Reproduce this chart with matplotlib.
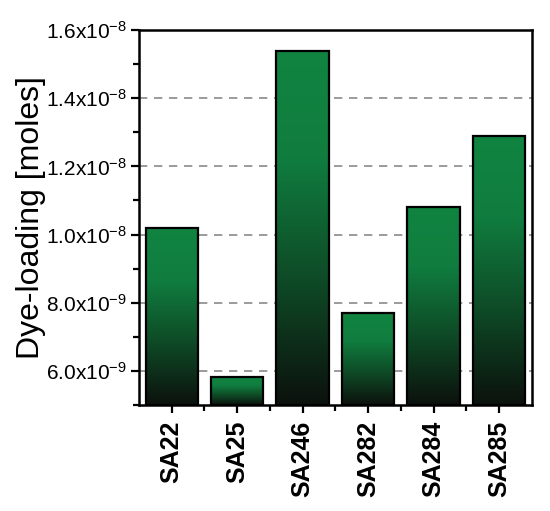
import numpy as np
import matplotlib
matplotlib.use("Agg")
import matplotlib.pyplot as plt
from matplotlib.colors import LinearSegmentedColormap
from matplotlib.ticker import MultipleLocator, FixedLocator

# data
samples = ["SA22", "SA25", "SA246", "SA282", "SA284", "SA285"]
dye_loading = [1.02e-8, 5.81e-9, 1.539e-8, 7.69e-9, 1.081e-8, 1.29e-8]
y_ticks = [6e-9, 8e-9, 1.0e-8, 1.2e-8, 1.4e-8, 1.6e-8]
y_tick_labels = [r"6.0x10$^{-9}$", r"8.0x10$^{-9}$", r"1.0x10$^{-8}$",
                 r"1.2x10$^{-8}$", r"1.4x10$^{-8}$", r"1.6x10$^{-8}$"]

plt.rcParams["font.family"] = ["Liberation Sans", "DejaVu Sans"]
plt.rcParams["mathtext.fontset"] = "custom"
plt.rcParams["mathtext.rm"] = "Liberation Sans"
plt.rcParams["mathtext.it"] = "Liberation Sans:italic"

ymin, ymax = 5e-9, 1.6e-8
green_black = LinearSegmentedColormap.from_list(
    "gb", [(0.0, "#0c110d"), (0.35, "#0e4a26"), (0.7, "#107d3f"), (1.0, "#118441")])

fig = plt.figure(figsize=(5.5, 5.11), dpi=100)
ax = fig.add_axes([0.2527, 0.2074, 0.967 - 0.2527, 0.9413 - 0.2074])

x = np.arange(len(samples))
heights = [v - ymin for v in dye_loading]
bars = ax.bar(x, heights, bottom=ymin, width=0.8, facecolor="none",
              edgecolor="black", linewidth=1.6, zorder=3)

grad = np.linspace(0, 1, 256).reshape(-1, 1)
for b in bars:
    x0, y0 = b.get_x(), b.get_y()
    im = ax.imshow(grad, cmap=green_black, origin="lower", aspect="auto",
                   extent=(x0, x0 + b.get_width(), y0, y0 + b.get_height()),
                   zorder=2, interpolation="bilinear")
    im.set_clip_path(b)

ax.set_xlim(-0.5, 5.5)
ax.set_ylim(ymin, ymax)

for yv in y_ticks[:-1]:
    ax.axhline(yv, color="#8a8a8a", linestyle=(0, (5, 4)), linewidth=1.2, zorder=1)

ax.set_yticks(y_ticks)
ax.set_yticklabels(y_tick_labels, fontsize=15)
ax.yaxis.set_minor_locator(MultipleLocator(1e-9))
ax.set_xticks(x)
ax.set_xticklabels(samples, rotation=90, fontsize=18, fontweight="bold")
ax.xaxis.set_minor_locator(FixedLocator(x[:-1] + 0.5))

ax.tick_params(axis="both", which="major", direction="out", length=6, width=1.6)
ax.tick_params(axis="both", which="minor", direction="out", length=4, width=1.6)
ax.tick_params(axis="x", which="major", pad=5)
ax.tick_params(axis="y", which="major", pad=3)

for s in ax.spines.values():
    s.set_linewidth(1.8)

ax.set_ylabel("Dye-loading [moles]", fontsize=23, labelpad=0)

fig.savefig("out.png", dpi=100)
